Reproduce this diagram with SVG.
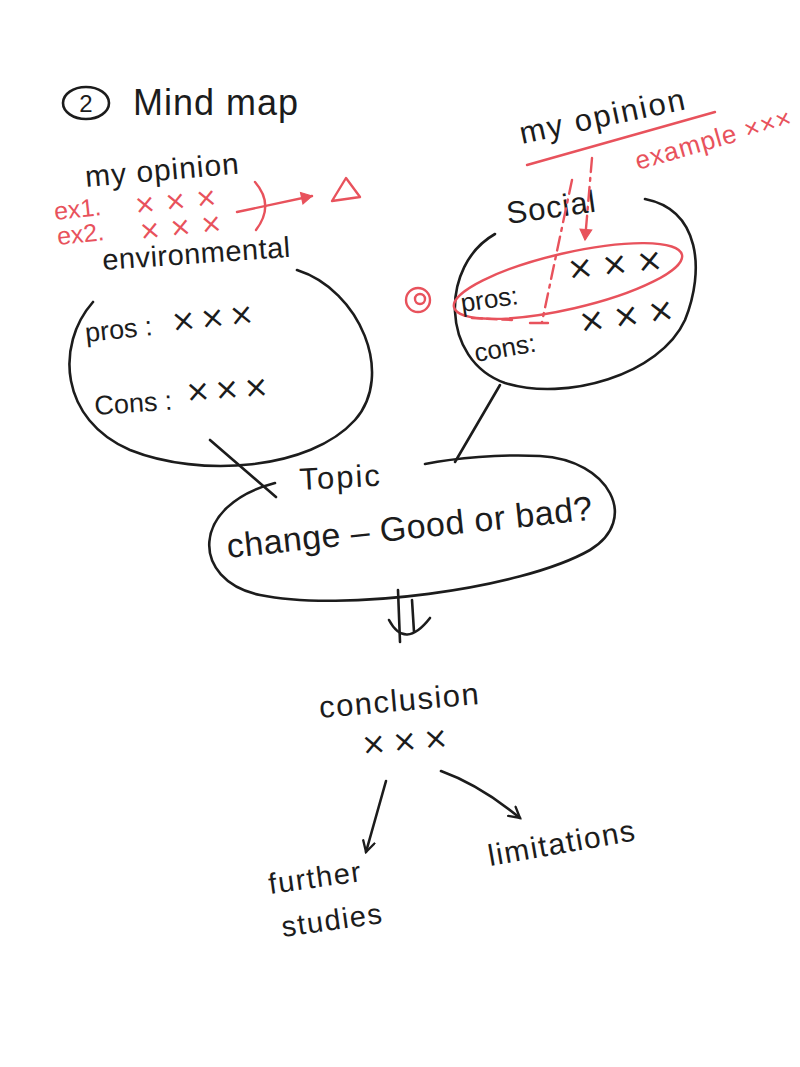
<svg xmlns="http://www.w3.org/2000/svg" width="800" height="1067" viewBox="0 0 800 1067">
<defs>
<style>
.k{fill:none;stroke:#1c1c1c;stroke-width:2.6;stroke-linecap:round;stroke-linejoin:round}
.r{fill:none;stroke:#e8525c;stroke-width:2.4;stroke-linecap:round;stroke-linejoin:round}
.t{font-family:"Liberation Sans","DejaVu Sans",sans-serif;fill:#1c1c1c}
.tr{font-family:"Liberation Sans","DejaVu Sans",sans-serif;fill:#e8525c}
.x{font-family:"DejaVu Sans",sans-serif;fill:#1c1c1c}
.xr{font-family:"DejaVu Sans",sans-serif;fill:#e8525c}
</style>
<marker id="ak" viewBox="0 0 12 12" refX="10" refY="6" markerWidth="14" markerHeight="14" markerUnits="userSpaceOnUse" orient="auto"><path d="M1,1 L10,6 L1,11" fill="none" stroke="#1c1c1c" stroke-width="2" stroke-linecap="round"/></marker>
<marker id="ar" viewBox="0 0 12 12" refX="10" refY="6" markerWidth="14" markerHeight="14" markerUnits="userSpaceOnUse" orient="auto"><path d="M1,1 L10,6 L1,11 Z" fill="#e8525c" stroke="#e8525c" stroke-width="1"/></marker>
</defs>
<rect width="800" height="1067" fill="#ffffff"/>

<g id="title">
<ellipse cx="86" cy="103" rx="23" ry="16" class="k"/>
<text x="86" y="112" class="t" font-size="24" text-anchor="middle">2</text>
<text x="133" y="115" class="t" font-size="36" letter-spacing="1">Mind map</text>
</g>

<g id="left-opinion">
<text x="86" y="187" class="t" font-size="30" letter-spacing="1" transform="rotate(-5 86 187)">my opinion</text>
<text x="55" y="220" class="tr" font-size="25" transform="rotate(-6 55 220)">ex1.</text>
<text x="135" y="214" class="xr" font-size="26" letter-spacing="9" transform="rotate(-6 135 214)">×××</text>
<text x="58" y="245" class="tr" font-size="25" transform="rotate(-6 58 245)">ex2.</text>
<text x="140" y="240" class="xr" font-size="26" letter-spacing="9" transform="rotate(-6 140 240)">×××</text>
<path d="M255,182 Q275,205 256,230" class="r"/>
<path d="M237,212 L312,196" class="r" marker-end="url(#ar)"/>
<path d="M332,201 L346,178 L360,197 Z" class="r"/>
</g>

<g id="environmental">
<text x="103" y="270" class="t" font-size="29" letter-spacing="0.5" transform="rotate(-4 103 270)">environmental</text>
<path d="M93,302 C55,345 60,420 130,450 C200,478 310,470 355,420 C395,375 360,290 297,270" class="k"/>
<text x="86" y="342" class="t" font-size="27" transform="rotate(-6 86 342)">pros :</text>
<text x="172" y="332" class="x" font-size="30" letter-spacing="4" transform="rotate(-6 172 332)">×××</text>
<text x="95" y="415" class="t" font-size="27" transform="rotate(-4 95 415)">Cons :</text>
<text x="186" y="402" class="x" font-size="30" letter-spacing="4" transform="rotate(-4 186 402)">×××</text>
</g>

<g id="social">
<text x="508" y="224" class="t" font-size="31" letter-spacing="1" transform="rotate(-8 508 224)">Social</text>
<path d="M495,234 C440,265 440,360 505,383 C565,402 660,375 685,320 C705,270 700,210 645,199" class="k"/>
<ellipse cx="568" cy="281" rx="117" ry="28" transform="rotate(-13 568 281)" class="r"/>
<circle cx="418" cy="300" r="12" class="r"/>
<circle cx="420" cy="299" r="5" class="r"/>
<text x="462" y="312" class="t" font-size="26" transform="rotate(-8 462 312)">pros:</text>
<text x="568" y="280" class="x" font-size="32" letter-spacing="8" transform="rotate(-6 568 280)">×××</text>
<text x="476" y="362" class="t" font-size="26" transform="rotate(-10 476 362)">cons:</text>
<text x="580" y="333" class="x" font-size="32" letter-spacing="8" transform="rotate(-8 580 333)">×××</text>
</g>

<g id="right-opinion">
<text x="522" y="144" class="t" font-size="31" letter-spacing="2" transform="rotate(-12 522 144)">my opinion</text>
<path d="M527,165 L715,112" class="r"/>
<text x="638" y="170" class="tr" font-size="26" letter-spacing="1" transform="rotate(-16 638 170)">example ×××</text>
<path d="M592,158 L585,240" class="r" stroke-dasharray="14 6 3 6" marker-end="url(#ar)"/>
<path d="M572,180 L542,322" class="r" stroke-dasharray="14 6 3 6"/>
<path d="M530,323 L548,323" class="r" stroke-width="3"/>
<path d="M512,320 L470,318" class="r" stroke-dasharray="10 5"/>
</g>

<g id="topic">
<path d="M275,483 C190,505 190,580 260,595 C340,612 520,590 590,550 C640,520 610,460 540,456 C500,454 455,458 425,464" class="k"/>
<text x="300" y="490" class="t" font-size="31" letter-spacing="2" transform="rotate(-3 300 490)">Topic</text>
<text x="228" y="558" class="t" font-size="34" letter-spacing="0.5" transform="rotate(-6 228 558)">change – Good or bad?</text>
</g>

<g id="conclusion">
<text x="320" y="718" class="t" font-size="31" letter-spacing="1.5" transform="rotate(-5 320 718)">conclusion</text>
<text x="362" y="755" class="x" font-size="30" letter-spacing="6" transform="rotate(-5 362 755)">×××</text>
</g>

<g id="further-studies">
<text x="270" y="894" class="t" font-size="29" letter-spacing="1.5" transform="rotate(-8 270 894)">further</text>
<text x="283" y="937" class="t" font-size="29" letter-spacing="1.5" transform="rotate(-8 283 937)">studies</text>
</g>

<g id="limitations">
<text x="490" y="866" class="t" font-size="30" letter-spacing="1.5" transform="rotate(-10 490 866)">limitations</text>
</g>

<g id="connectors">
<path d="M210,440 L276,497" class="k"/>
<path d="M500,385 L455,462" class="k"/>
<path d="M398,590 L400,642" class="k"/>
<path d="M412,600 L414,632 M389,620 Q405,650 430,618" class="k"/>
<path d="M386,781 L366,852" class="k" marker-end="url(#ak)"/>
<path d="M441,771 Q480,785 520,818" class="k" marker-end="url(#ak)"/>
</g>
</svg>
